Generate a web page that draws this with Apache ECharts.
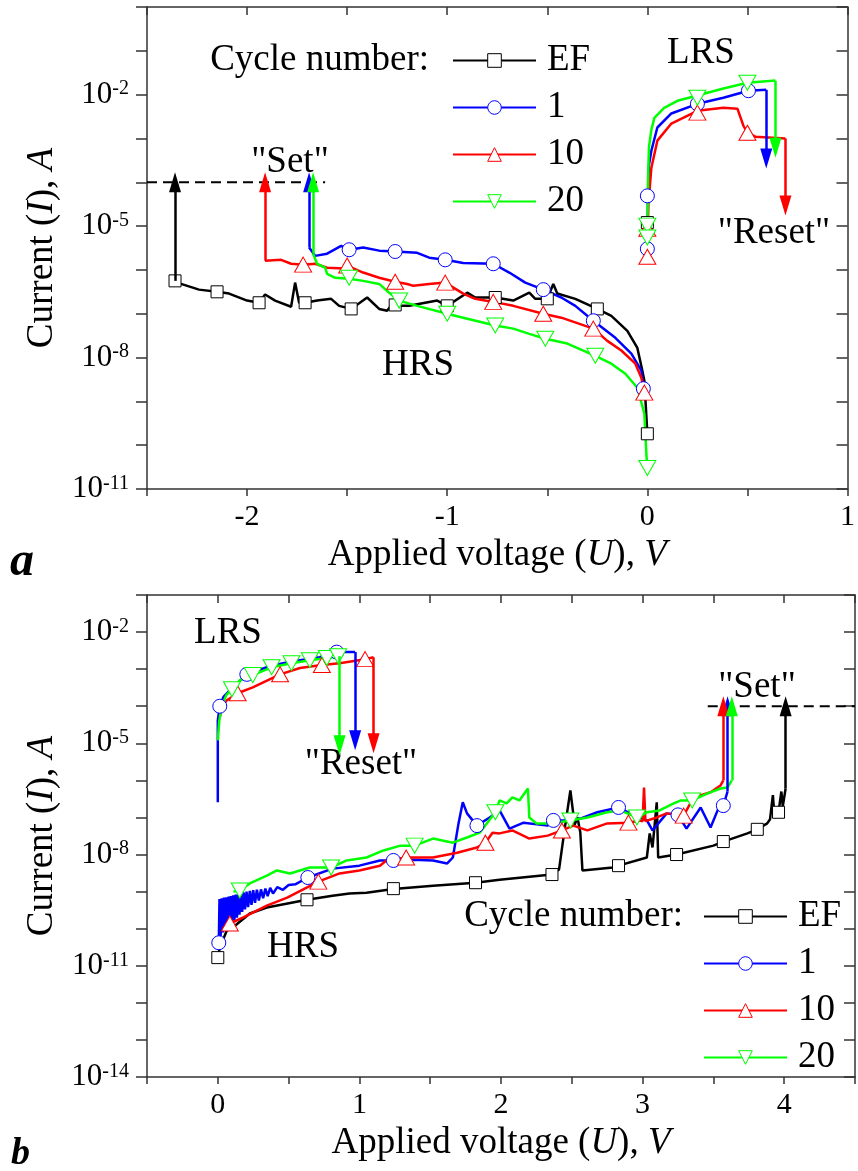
<!DOCTYPE html>
<html>
<head>
<meta charset="utf-8">
<title>I-V switching cycles</title>
<script src="https://cdn.jsdelivr.net/npm/echarts@6.0.0/dist/echarts.min.js"></script>
<style>
    html, body { margin: 0; padding: 0; background: #fff; }
    #chart { width: 858px; height: 1171px; }
</style>
</head>
<body>
<div id="chart"></div>
<script>
    // every point is [U in V, lg(I / A)]

    // ---- panel a ----
    var aXLabels = [-2, -1, 0, 1];
    var aYLabels = [-11, -8, -5, -2];

    var aEfHrs = [[-2.36, -6.25], [-2.33, -6.32], [-2.24, -6.45], [-2.15, -6.50], [-2.09, -6.54], [-2.00, -6.70],
        [-1.94, -6.75], [-1.91, -6.56], [-1.86, -6.70], [-1.78, -6.84], [-1.76, -6.29], [-1.74, -6.75], [-1.71, -6.75],
        [-1.65, -6.70], [-1.58, -6.66], [-1.54, -6.82], [-1.48, -6.89], [-1.40, -6.63], [-1.34, -6.89], [-1.30, -6.93],
        [-1.27, -6.75], [-1.24, -6.82], [-1.19, -6.82], [-1.05, -6.70], [-1.00, -6.82], [-0.90, -6.52], [-0.86, -6.63],
        [-0.76, -6.63], [-0.67, -6.70], [-0.59, -6.52], [-0.56, -6.66], [-0.50, -6.66], [-0.47, -6.32], [-0.45, -6.54],
        [-0.36, -6.66], [-0.25, -6.89], [-0.18, -7.05], [-0.10, -7.39], [-0.05, -7.78], [-0.025, -8.30],
        [-0.015, -8.53], [0, -9.74]];
    var aEfMarks = [[-2.36, -6.25], [-2.15, -6.50], [-1.94, -6.75], [-1.71, -6.75], [-1.48, -6.89], [-1.26, -6.80],
        [-1.00, -6.82], [-0.76, -6.63], [-0.50, -6.66], [-0.25, -6.89], [0, -9.74], [0, -4.92]];
    var aEfArrows = [[-2.36, -6.25, -4]];

    var a1Hrs = [[-1.69, -5.49], [-1.66, -5.68], [-1.60, -5.63], [-1.53, -5.45], [-1.49, -5.54], [-1.42, -5.49],
        [-1.34, -5.56], [-1.26, -5.58], [-1.15, -5.61], [-1.09, -5.72], [-1.01, -5.77], [-0.92, -5.84], [-0.77, -5.86],
        [-0.69, -6.06], [-0.61, -6.29], [-0.52, -6.45], [-0.43, -6.63], [-0.36, -6.82], [-0.27, -7.16], [-0.16, -7.55],
        [-0.08, -7.91], [-0.03, -8.30], [-0.02, -8.71]];
    var a1Lrs = [[0, -5.5], [0.003, -4.3], [0.008, -3.6], [0.02, -3.28], [0.05, -2.75], [0.12, -2.43], [0.25, -2.21],
        [0.38, -2.07], [0.505, -1.91], [0.594, -1.89]];
    var a1Marks = [[-1.49, -5.54], [-1.26, -5.58], [-1.01, -5.77], [-0.77, -5.86], [-0.52, -6.45], [-0.27, -7.16],
        [-0.02, -8.71], [0, -4.31], [0, -5.52], [0.25, -2.21], [0.505, -1.91]];
    var a1Arrows = [[-1.69, -5.49, -4], [0.594, -1.89, -3.46]];

    var a10Hrs = [[-1.91, -5.79], [-1.83, -5.77], [-1.78, -5.86], [-1.72, -5.88], [-1.66, -5.86], [-1.60, -5.95],
        [-1.51, -5.97], [-1.50, -5.90], [-1.42, -6.06], [-1.34, -6.18], [-1.26, -6.27], [-1.20, -6.32], [-1.17, -6.36],
        [-1.09, -6.32], [-1.01, -6.29], [-0.92, -6.54], [-0.86, -6.66], [-0.77, -6.73], [-0.67, -6.82], [-0.52, -7.00],
        [-0.43, -7.09], [-0.27, -7.34], [-0.20, -7.62], [-0.13, -7.84], [-0.06, -8.14], [-0.03, -8.46], [-0.015, -8.80]];
    var a10Lrs = [[0, -5.7], [0.005, -4.5], [0.02, -3.67], [0.05, -3.05], [0.12, -2.66], [0.25, -2.37], [0.38, -2.30],
        [0.45, -2.32], [0.48, -2.71], [0.50, -2.87], [0.54, -2.96], [0.69, -3.00]];
    var a10Marks = [[-1.72, -5.88], [-1.50, -5.90], [-1.26, -6.27], [-1.01, -6.29], [-0.77, -6.73], [-0.52, -7.00],
        [-0.27, -7.34], [-0.015, -8.80], [0, -5.06], [0, -5.70], [0.25, -2.41], [0.50, -2.87]];
    var a10Arrows = [[-1.91, -5.79, -4], [0.69, -3.00, -4.53]];

    var a20Hrs = [[-1.67, -5.63], [-1.65, -5.86], [-1.61, -5.95], [-1.60, -6.09], [-1.56, -6.18], [-1.49, -6.20],
        [-1.42, -6.25], [-1.34, -6.32], [-1.29, -6.52], [-1.24, -6.70], [-1.15, -6.82], [-1.00, -7.00], [-0.92, -7.09],
        [-0.76, -7.27], [-0.67, -7.34], [-0.59, -7.46], [-0.51, -7.57], [-0.40, -7.68], [-0.26, -7.96], [-0.18, -8.14],
        [-0.11, -8.37], [-0.05, -8.69], [-0.015, -9.28], [-0.005, -10.20], [0, -10.52]];
    var a20Lrs = [[0, -5.2], [0.003, -4.0], [0.008, -3.2], [0.02, -2.8], [0.035, -2.53], [0.084, -2.30], [0.15, -2.14],
        [0.25, -2.02], [0.38, -1.86], [0.50, -1.73], [0.64, -1.68]];
    var a20Marks = [[-1.49, -6.18], [-1.24, -6.70], [-1.00, -7.00], [-0.76, -7.27], [-0.51, -7.57], [-0.26, -7.96],
        [0, -10.52], [0, -4.99], [0, -5.26], [0.25, -2.07], [0.50, -1.73]];
    var a20Arrows = [[-1.67, -5.63, -4], [0.64, -1.68, -3.21]];

    var aCompliance = [[-2.5, -4], [-1.61, -4]];

    // ---- panel b ----
    var bXLabels = [0, 1, 2, 3, 4];
    var bYLabels = [-14, -11, -8, -5, -2];

    var bEfHrs = [[0, -10.78], [0.014, -10.51], [0.064, -10.05], [0.106, -9.97], [0.226, -9.59], [0.346, -9.43],
        [0.63, -9.22], [0.81, -9.11], [0.93, -9.05], [1.05, -9.03], [1.24, -8.93], [1.52, -8.84], [1.82, -8.76],
        [1.99, -8.68], [2.36, -8.54], [2.41, -8.40], [2.45, -7.3], [2.49, -6.27], [2.52, -7.2], [2.54, -7.0],
        [2.56, -7.4], [2.575, -8.43], [2.79, -8.35], [2.83, -8.30], [3.03, -8.08], [3.05, -7.43], [3.07, -7.81],
        [3.10, -6.59], [3.11, -8.08], [3.24, -8.00], [3.50, -7.76], [3.57, -7.65], [3.74, -7.43], [3.81, -7.32],
        [3.88, -7.16], [3.90, -7.05], [3.92, -6.4], [3.93, -6.9], [3.96, -6.86], [3.98, -6.3], [3.99, -6.7], [4.01, -6.22]];
    var bEfMarks = [[0, -10.78], [0.63, -9.22], [1.24, -8.92], [1.82, -8.76], [2.36, -8.54], [2.83, -8.30],
        [3.24, -8.00], [3.57, -7.65], [3.81, -7.32], [3.96, -6.86]];
    var bEfArrows = [[4.01, -6.22, -4]];

    var b1Hrs = [[0.007, -10.38], [0.012, -9.2], [0.02, -10.2], [0.028, -9.18], [0.036, -10.1], [0.044, -9.16],
        [0.052, -10.05], [0.06, -9.15], [0.068, -9.98], [0.076, -9.13], [0.084, -9.92], [0.092, -9.12], [0.10, -9.85],
        [0.108, -9.1], [0.117, -9.78], [0.126, -9.08], [0.135, -9.7], [0.144, -9.06], [0.153, -9.62], [0.162, -9.04],
        [0.172, -9.55], [0.182, -9.02], [0.192, -9.48], [0.203, -9.0], [0.214, -9.42], [0.226, -8.98], [0.238, -9.36],
        [0.25, -8.96], [0.263, -9.3], [0.276, -8.95], [0.29, -9.24], [0.305, -8.94], [0.32, -9.18], [0.336, -8.92],
        [0.352, -9.12], [0.37, -8.9], [0.39, -9.05], [0.42, -8.88], [0.46, -8.95], [0.50, -8.82], [0.55, -8.8],
        [0.636, -8.62], [0.81, -8.38], [1.00, -8.30], [1.145, -8.16], [1.24, -8.16], [1.38, -8.14],
        [1.52, -8.16], [1.62, -8.24], [1.66, -8.08], [1.70, -7.16], [1.73, -6.59], [1.76, -6.89], [1.83, -7.22],
        [1.92, -7.00], [1.99, -6.81], [2.06, -7.30], [2.16, -7.14], [2.33, -7.22], [2.37, -7.08], [2.47, -7.08],
        [2.56, -7.03], [2.68, -6.86], [2.83, -6.73], [2.91, -6.89], [3.03, -7.08], [3.07, -7.35], [3.17, -6.89],
        [3.25, -6.93], [3.31, -7.30], [3.41, -6.73], [3.48, -7.27], [3.55, -6.62], [3.57, -6.68], [3.60, -6.3]];
    var b1Lrs = [[0, -6.59], [0, -4.38], [0.014, -4.00], [0.04, -3.75], [0.085, -3.57], [0.205, -3.14], [0.346, -2.95],
        [0.46, -2.84], [0.58, -2.76], [0.72, -2.68], [0.84, -2.54], [0.97, -2.54]];
    var b1Marks = [[0.007, -10.38], [0.636, -8.62], [1.24, -8.16], [1.83, -7.22], [2.37, -7.08], [2.83, -6.73],
        [3.25, -6.93], [3.57, -6.68], [0.014, -4.00], [0.205, -3.14], [0.84, -2.54]];
    var b1Arrows = [[3.60, -6.3, -4], [0.97, -2.54, -4.92]];

    var b10Hrs = [[0.035, -10.0], [0.085, -9.86], [0.177, -9.70], [0.346, -9.38], [0.49, -9.16], [0.71, -8.73],
        [0.86, -8.51], [1.00, -8.43], [1.145, -8.30], [1.19, -8.16], [1.33, -8.08], [1.52, -8.08], [1.69, -7.95],
        [1.83, -7.81], [1.89, -7.68], [1.94, -7.41], [1.99, -7.43], [2.08, -7.35], [2.20, -7.57], [2.33, -7.49],
        [2.43, -7.35], [2.51, -7.22], [2.61, -7.35], [2.75, -7.16], [2.90, -7.14], [2.98, -7.08], [3.00, -7.1],
        [3.01, -6.19], [3.02, -7.1], [3.10, -7.00], [3.17, -6.89], [3.29, -6.95], [3.36, -6.46], [3.48, -6.32],
        [3.55, -6.14], [3.57, -6.0]];
    var b10Lrs = [[0.014, -4.30], [0.03, -4.0], [0.064, -3.84], [0.14, -3.65], [0.247, -3.49], [0.44, -3.14],
        [0.58, -2.97], [0.735, -2.89], [0.86, -2.84], [1.04, -2.73], [1.10, -2.68]];
    var b10Marks = [[0.085, -9.86], [0.71, -8.73], [1.33, -8.08], [1.89, -7.68], [2.43, -7.35], [2.90, -7.14],
        [3.29, -6.95], [0.14, -3.65], [0.44, -3.14], [0.735, -2.89], [1.04, -2.73]];
    var b10Arrows = [[3.57, -6.0, -4], [1.10, -2.68, -5.00]];

    var b20Hrs = [[0.11, -9.0], [0.155, -8.97], [0.226, -8.78], [0.346, -8.57], [0.417, -8.43], [0.51, -8.51],
        [0.65, -8.35], [0.80, -8.35], [0.91, -8.16], [1.05, -8.08], [1.17, -7.89], [1.29, -7.76], [1.39, -7.76],
        [1.52, -7.57], [1.66, -7.68], [1.76, -7.54], [1.85, -7.41], [1.96, -6.86], [1.99, -6.54], [2.04, -6.62],
        [2.08, -6.46], [2.13, -6.54], [2.19, -6.22], [2.20, -7.00], [2.25, -7.16], [2.35, -7.16], [2.49, -7.08],
        [2.61, -7.00], [2.75, -6.86], [2.84, -6.81], [2.96, -7.00], [3.03, -6.86], [3.12, -6.81], [3.22, -6.62],
        [3.27, -6.54], [3.35, -6.54], [3.46, -6.35], [3.55, -6.22], [3.60, -6.19], [3.63, -6.0]];
    var b20Lrs = [[0, -4.92], [0.01, -4.4], [0.028, -4.0], [0.06, -3.7], [0.10, -3.54], [0.155, -3.30], [0.247, -3.16],
        [0.38, -2.95], [0.52, -2.84], [0.65, -2.76], [0.77, -2.70], [0.86, -2.65]];
    var b20Marks = [[0.155, -8.97], [0.80, -8.35], [1.39, -7.76], [1.96, -6.86], [2.49, -7.08], [2.96, -7.00],
        [3.35, -6.54], [0.10, -3.54], [0.247, -3.16], [0.38, -2.95], [0.52, -2.84], [0.65, -2.76], [0.77, -2.70],
        [0.85, -2.65]];
    var b20Arrows = [[3.63, -6.0, -4], [0.86, -2.65, -5.05]];

    var bCompliance = [[3.46, -4], [4.5, -4]];

    var cycleNames = ['EF', '1', '10', '20'];

    // ---- look ----
    var FONT = '"Liberation Serif", "Times New Roman", serif';
    var FRAME = '#333';
    var TEXT_SIZE = 37;
    var look = {
        'EF': {color: '#000000', symbol: 'rect', size: 12},
        '1': {color: '#0000ff', symbol: 'circle', size: 14},
        '10': {color: '#ff0000', symbol: 'path://M5,0L10,8.66L0,8.66Z', size: [17, 15]},
        '20': {color: '#00ff00', symbol: 'path://M0,0L10,0L5,8.66Z', size: [17, 15]}
    };

    var panels = [
        {
            grid: {left: 147, top: 7, width: 708, height: 482},
            x: [-2.5, 1], y: [-11, 0], xLabels: aXLabels, yLabels: aYLabels,
            compliance: aCompliance,
            curves: [
                {name: 'EF', lines: [aEfHrs], marks: aEfMarks, arrows: aEfArrows},
                {name: '1', lines: [a1Hrs, a1Lrs], marks: a1Marks, arrows: a1Arrows},
                {name: '10', lines: [a10Hrs, a10Lrs], marks: a10Marks, arrows: a10Arrows},
                {name: '20', lines: [a20Hrs, a20Lrs], marks: a20Marks, arrows: a20Arrows}
            ]
        },
        {
            grid: {left: 147, top: 595, width: 708, height: 482},
            x: [-0.5, 4.5], y: [-14, -1], xLabels: bXLabels, yLabels: bYLabels,
            compliance: bCompliance,
            curves: [
                {name: 'EF', lines: [bEfHrs], marks: bEfMarks, arrows: bEfArrows},
                {name: '1', lines: [b1Hrs, b1Lrs], marks: b1Marks, arrows: b1Arrows},
                {name: '10', lines: [b10Hrs, b10Lrs], marks: b10Marks, arrows: b10Arrows},
                {name: '20', lines: [b20Hrs, b20Lrs], marks: b20Marks, arrows: b20Arrows}
            ]
        }
    ];

    var nameStyle = {
        fontSize: TEXT_SIZE, fontFamily: FONT, color: '#000',
        rich: {i: {fontSize: TEXT_SIZE, fontFamily: FONT, fontStyle: 'italic', color: '#000'}}
    };

    function makeAxes(p, gi) {
        var line = {lineStyle: {color: FRAME, width: 1.5}, onZero: false};
        var tickStyle = {color: FRAME, width: 1.5};
        var x = [{
            type: 'value', gridIndex: gi, min: p.x[0], max: p.x[1], interval: 0.5, position: 'bottom',
            axisLine: line, axisTick: {length: 7, lineStyle: tickStyle}, splitLine: {show: false},
            axisLabel: {
                margin: 13, fontSize: 30, fontFamily: FONT, color: '#000',
                formatter: function (v) { return p.xLabels.indexOf(v) >= 0 ? String(v) : ''; }
            },
            name: 'Applied voltage ({i|U}), {i|V}', nameLocation: 'middle', nameGap: 48, nameTextStyle: nameStyle
        }, {
            type: 'value', gridIndex: gi, min: p.x[0], max: p.x[1], interval: 0.5, position: 'top',
            axisLine: line, axisTick: {inside: true, length: 8, lineStyle: tickStyle},
            axisLabel: {show: false}, splitLine: {show: false}
        }];
        var y = [{
            type: 'value', gridIndex: gi, min: p.y[0], max: p.y[1], interval: 1, position: 'left',
            axisLine: line, axisTick: {length: 11, lineStyle: tickStyle}, splitLine: {show: false},
            axisLabel: {
                margin: 18,
                formatter: function (v) { return p.yLabels.indexOf(v) >= 0 ? '{b|10}{s|' + v + '}' : ''; },
                rich: {
                    b: {fontSize: 31, fontFamily: FONT, color: '#000', verticalAlign: 'bottom'},
                    s: {fontSize: 20, fontFamily: FONT, color: '#000', verticalAlign: 'top'}
                }
            },
            name: 'Current ({i|I}), {i|A}', nameLocation: 'middle', nameGap: 60, nameTextStyle: nameStyle
        }, {
            type: 'value', gridIndex: gi, min: p.y[0], max: p.y[1], interval: 1, position: 'right',
            axisLine: line, axisTick: {inside: true, length: 11, lineStyle: tickStyle},
            axisLabel: {show: false}, splitLine: {show: false}
        }];
        return {x: x, y: y};
    }

    function makeSeries(p, gi) {
        var ax = gi * 2;
        var out = [];
        p.curves.forEach(function (c) {
            var lk = look[c.name];
            c.lines.forEach(function (pts, k) {
                var s = {
                    type: 'line', name: c.name, xAxisIndex: ax, yAxisIndex: ax, data: pts,
                    showSymbol: false, symbol: lk.symbol, symbolSize: 14,
                    lineStyle: {color: lk.color, width: 2.5}, itemStyle: {color: lk.color},
                    silent: true, z: 2
                };
                if (k === 0) {
                    s.markLine = {
                        silent: true, symbol: ['none', 'triangle'], symbolSize: [12, 20],
                        label: {show: false}, lineStyle: {color: lk.color, width: 2.5, type: 'solid'},
                        data: c.arrows.map(function (a) {
                            return [{coord: [a[0], a[1]]}, {coord: [a[0], a[2]]}];
                        })
                    };
                }
                out.push(s);
            });
            out.push({
                type: 'scatter', name: c.name + ' markers', xAxisIndex: ax, yAxisIndex: ax, data: c.marks,
                symbol: lk.symbol, symbolSize: lk.size,
                itemStyle: {color: '#fff', borderColor: lk.color, borderWidth: 1, opacity: 1},
                silent: true, z: 3
            });
        });
        // compliance current level
        out.push({
            type: 'line', name: 'compliance', xAxisIndex: ax, yAxisIndex: ax, data: p.compliance,
            showSymbol: false, lineStyle: {color: '#000', width: 2, type: [10, 6]}, silent: true, z: 2
        });
        return out;
    }

    function legendFor(left, top) {
        return {
            orient: 'vertical', left: left, top: top, padding: 0, itemGap: 10,
            itemWidth: 83, itemHeight: 17, selectedMode: false,
            textStyle: {fontSize: TEXT_SIZE, lineHeight: 36, fontFamily: FONT, color: '#000', padding: [0, 0, 0, 6]},
            data: cycleNames.map(function (n) {
                return {name: n, itemStyle: {color: '#fff', borderColor: look[n].color, borderWidth: 1}};
            })
        };
    }

    function txt(text, x, y, extra) {
        var st = {
            text: text, fontSize: TEXT_SIZE, fontFamily: FONT, fill: '#000',
            align: 'center', verticalAlign: 'middle', textAlign: 'center', textVerticalAlign: 'middle'
        };
        for (var k in extra) st[k] = extra[k];
        return {type: 'text', x: x, y: y, silent: true, style: st};
    }

    var xAxes = [], yAxes = [], series = [];
    panels.forEach(function (p, gi) {
        var a = makeAxes(p, gi);
        xAxes = xAxes.concat(a.x);
        yAxes = yAxes.concat(a.y);
        series = series.concat(makeSeries(p, gi));
    });

    var right = {align: 'right', textAlign: 'right'};
    var letterA = {fontSize: 48, fontWeight: 'bold', fontStyle: 'italic', align: 'left', textAlign: 'left'};
    var letterB = {fontSize: 38, fontWeight: 'bold', fontStyle: 'italic', align: 'left', textAlign: 'left'};

    var chart = echarts.init(document.getElementById('chart'), null, {renderer: 'canvas'});
    chart.setOption({
        animation: false,
        textStyle: {fontFamily: FONT},
        grid: panels.map(function (p) { return p.grid; }),
        xAxis: xAxes,
        yAxis: yAxes,
        legend: [legendFor(452, 42), legendFor(703, 898)],
        graphic: [
            txt('Cycle number:', 429, 60, right),
            txt('LRS', 701, 53),
            txt('"Set"', 290, 162),
            txt('"Reset"', 774, 233),
            txt('HRS', 418, 365),
            txt('a', 10, 563, letterA),
            txt('Cycle number:', 683, 916, right),
            txt('LRS', 228, 633),
            txt('"Reset"', 361, 764),
            txt('"Set"', 757, 687),
            txt('HRS', 303, 947),
            txt('b', 11, 1154, letterB)
        ],
        series: series
    });
</script>
</body>
</html>
